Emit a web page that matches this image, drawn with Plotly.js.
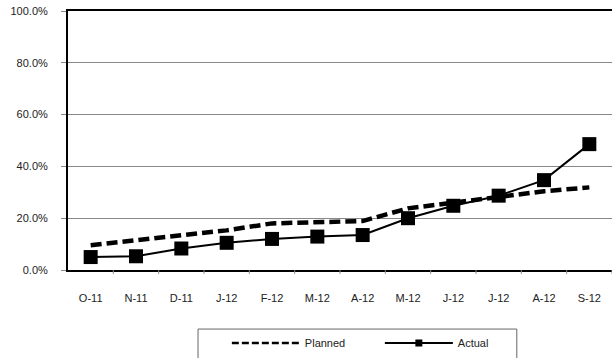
<!DOCTYPE html>
<html>
<head>
<meta charset="utf-8">
<script src="https://cdn.plot.ly/plotly-3.0.1.min.js"></script>
<style>html,body{margin:0;padding:0;background:#fff;}#chart{width:612px;height:358px;}</style>
</head>
<body>
<div id="chart"></div>
<script>
const months = ["O-11","N-11","D-11","J-12","F-12","M-12","A-12","M-12","J-12","J-12","A-12","S-12"];
const categoryIds = months.map((m, i) => i);
const planned = [9.6, 11.5, 13.5, 15.3, 18.0, 18.3, 18.9, 23.8, 26.0, 28.3, 30.4, 31.9];
const actual = [5.0, 5.3, 8.3, 10.5, 12.0, 12.9, 13.5, 20.0, 24.8, 28.7, 34.7, 48.6];
const yTicks = [0, 20, 40, 60, 80, 100];
const yTickText = yTicks.map(v => v.toFixed(1) + "%");

const traces = [
  {
    x: categoryIds, y: planned, name: "Planned", type: "scatter", mode: "lines",
    line: {color: "#000", width: 4.5, dash: "11px,5px"}, showlegend: false
  },
  {
    x: categoryIds, y: actual, name: "Actual", type: "scatter", mode: "lines+markers",
    line: {color: "#000", width: 2},
    marker: {symbol: "square", size: 14, color: "#000"}, showlegend: false
  },
  {
    x: [null], y: [null], name: "Planned", type: "scatter", mode: "lines",
    line: {color: "#000", width: 2.5, dash: "7px,3px"}
  },
  {
    x: [null], y: [null], name: "Actual", type: "scatter", mode: "lines+markers",
    line: {color: "#000", width: 2},
    marker: {symbol: "square", size: 7, color: "#000"}
  }
];

const layout = {
  width: 612, height: 358,
  margin: {l: 68, r: 0, t: 11, b: 88, autoexpand: false},
  paper_bgcolor: "#fff", plot_bgcolor: "#fff",
  font: {family: "Liberation Sans, Arial, sans-serif", size: 11, color: "#222"},
  showlegend: true,
  legend: {
    orientation: "h", x: 0.292, xanchor: "left", y: -0.226, yanchor: "top",
    borderwidth: 0, itemwidth: 68, entrywidth: 70, entrywidthmode: "pixels",
    bgcolor: "rgba(0,0,0,0)",
    font: {size: 11, color: "#222"}, traceorder: "normal"
  },
  xaxis: {
    type: "linear", range: [-0.5, 11.5], tickvals: categoryIds, ticktext: months,
    showgrid: false, zeroline: false, automargin: false,
    showline: true, linecolor: "#000", linewidth: 2, mirror: true,
    ticks: "", ticklabelstandoff: 17, fixedrange: true
  },
  yaxis: {
    range: [0, 100], tickmode: "array", tickvals: yTicks, ticktext: yTickText,
    showgrid: true, gridcolor: "#888", gridwidth: 1, zeroline: false, automargin: false,
    showline: true, linecolor: "#000", linewidth: 2,
    ticks: "outside", ticklen: 5, tickcolor: "#888", ticklabelstandoff: 11
  },
  shapes: categoryIds.slice(1).concat([12]).map(i => ({
    type: "line", xref: "x", yref: "paper", x0: i - 0.5, x1: i - 0.5, y0: 0, y1: -0.015,
    line: {color: "#888", width: 1}
  })).concat([{
    type: "rect", xref: "paper", yref: "paper", x0: 0.239, x1: 0.825, y0: -0.228, y1: -0.4,
    line: {color: "#666", width: 1}, fillcolor: "rgba(0,0,0,0)"
  }])
};

Plotly.newPlot("chart", traces, layout, {displayModeBar: false, staticPlot: true});
</script>
</body>
</html>
